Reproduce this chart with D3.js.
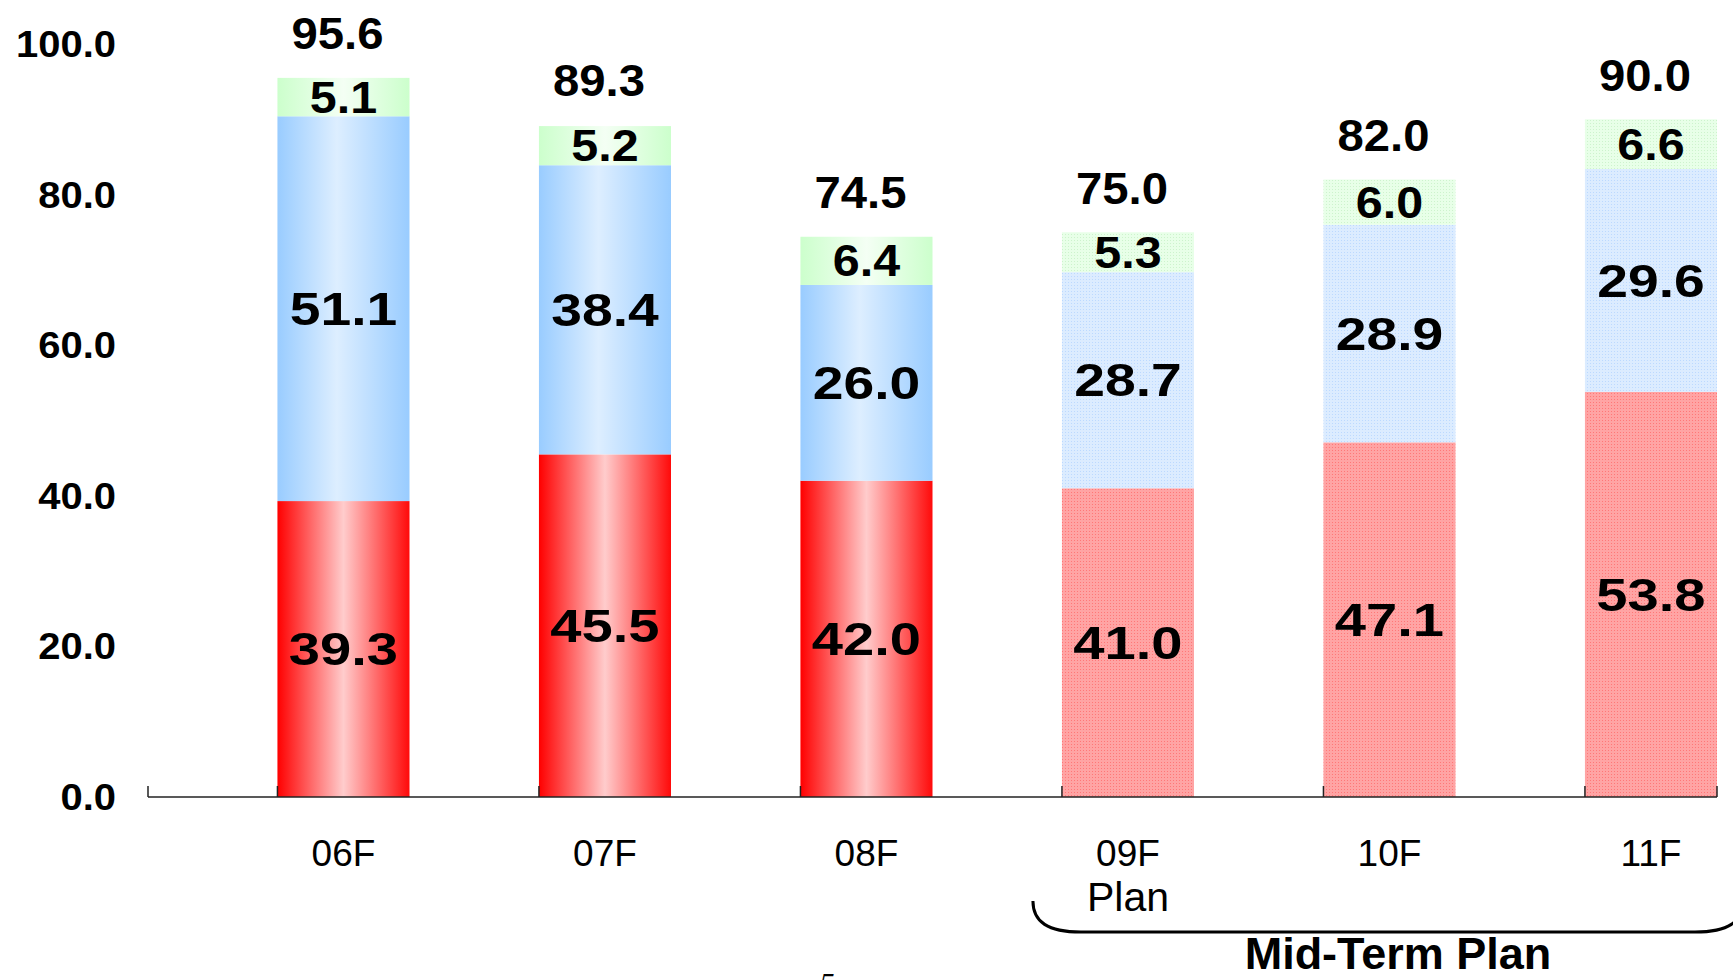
<!doctype html>
<html>
  <head>
    <script src="https://cdn.jsdelivr.net/npm/d3@7"></script>
    <style>
      body { margin: 0; background: #fff; }
      svg { display: block; }
      text { font-family: "Liberation Sans", Arial, sans-serif; fill: #000; }
    </style>
  </head>
  <body>
    <svg id="chart" width="1733" height="980"></svg>
    <script>
      // values
      var years = ["06F", "07F", "08F", "09F", "10F", "11F"];
      var kind = ["actual", "actual", "actual", "plan", "plan", "plan"];
      var redVals = [39.3, 45.5, 42.0, 41.0, 47.1, 53.8];
      var blueVals = [51.1, 38.4, 26.0, 28.7, 28.9, 29.6];
      var greenVals = [5.1, 5.2, 6.4, 5.3, 6.0, 6.6];
      var totals = [95.6, 89.3, 74.5, 75.0, 82.0, 90.0];
      var yTicks = [0, 20, 40, 60, 80, 100];

      var keys = ["red", "blue", "green"];
      var table = years.map((y, i) => ({
        year: y, kind: kind[i], red: redVals[i], blue: blueVals[i], green: greenVals[i], total: totals[i]
      }));

      var svg = d3.select("#chart");

      var x = d3.scaleBand().domain(years).range([148, 1717]).padding(0);
      var y = d3.scaleLinear().domain([0, 100]).range([797, 44]);
      var barW = x.bandwidth() * 0.505;
      var barLeft = d => x(d) + x.bandwidth() - barW;

      // gradients for actual bars, dotted patterns for plan bars
      var defs = svg.append("defs");
      var grads = {
        red: [["0%", "#ff0000"], ["50%", "#ffcccc"], ["100%", "#ff0a0a"]],
        blue: [["0%", "#99ccff"], ["45%", "#ddeeff"], ["100%", "#99ccff"]],
        green: [["0%", "#ccffcc"], ["50%", "#f4fff4"], ["100%", "#ccffcc"]]
      };
      keys.forEach(k => {
        var g = defs.append("linearGradient").attr("id", "grad-" + k)
          .attr("x1", 0).attr("x2", 1).attr("y1", 0).attr("y2", 0);
        grads[k].forEach(s => g.append("stop").attr("offset", s[0]).attr("stop-color", s[1]));
      });
      var pats = {
        red: ["#ffa4a4", "#ff7777"],
        blue: ["#dcecff", "#bcd9ff"],
        green: ["#e8ffe8", "#cdf3cd"]
      };
      keys.forEach(k => {
        var p = defs.append("pattern").attr("id", "pat-" + k)
          .attr("patternUnits", "userSpaceOnUse").attr("width", 3).attr("height", 3);
        p.append("rect").attr("width", 3).attr("height", 3).attr("fill", pats[k][0]);
        p.append("rect").attr("width", 1).attr("height", 1).attr("fill", pats[k][1]);
      });

      var series = d3.stack().keys(keys)(table);

      // bars
      var layers = svg.selectAll("g.layer")
        .data(series)
        .enter()
        .append("g")
          .attr("class", "layer");
      layers.selectAll("rect")
        .data(s => s.map(d => Object.assign({ key: s.key }, d)))
        .enter()
        .append("rect")
          .attr("x", d => barLeft(d.data.year))
          .attr("width", barW)
          .attr("y", d => y(d[1]))
          .attr("height", d => y(d[0]) - y(d[1]))
          .attr("fill", d => d.data.kind == "plan" ? "url(#pat-" + d.key + ")" : "url(#grad-" + d.key + ")");

      // segment labels
      var labelSize = { red: 46, blue: 46, green: 44 };
      var labelStretch = { red: 1.22, blue: 1.2, green: 1.1 };
      layers.selectAll("text")
        .data(s => s.map(d => Object.assign({ key: s.key }, d)))
        .enter()
        .append("text")
          .attr("transform", d => `translate(${barLeft(d.data.year) + barW / 2},${(y(d[0]) + y(d[1])) / 2}) scale(${labelStretch[d.key]},1)`)
          .attr("dy", "0.35em")
          .attr("text-anchor", "middle")
          .style("font-weight", "bold")
          .style("font-size", d => labelSize[d.key] + "px")
          .text(d => d3.format(".1f")(d.data[d.key]));

      // totals above bars
      svg.selectAll("text.total")
        .data(table)
        .enter()
        .append("text")
          .attr("class", "total")
          .attr("transform", d => `translate(${barLeft(d.year) + barW / 2 - 6},${y(d.total) - 44}) scale(1.05,1)`)
          .attr("dy", "0.35em")
          .attr("text-anchor", "middle")
          .style("font-weight", "bold")
          .style("font-size", "45px")
          .text(d => d3.format(".1f")(d.total));

      // y axis labels (no axis line)
      svg.selectAll("text.ytick")
        .data(yTicks)
        .enter()
        .append("text")
          .attr("class", "ytick")
          .attr("transform", d => `translate(116,${y(d)}) scale(1.08,1)`)
          .attr("dy", "0.35em")
          .attr("text-anchor", "end")
          .style("font-weight", "bold")
          .style("font-size", "37px")
          .text(d => d3.format(".1f")(d));

      // x axis baseline with small upward ticks
      var xr = x.range();
      svg.append("line")
        .attr("x1", xr[0]).attr("x2", xr[1])
        .attr("y1", y(0)).attr("y2", y(0))
        .attr("stroke", "#222").attr("stroke-width", 1.5);
      var tickXs = [xr[0], xr[1]].concat(years.map(barLeft));
      svg.selectAll("line.xtick")
        .data(tickXs)
        .enter()
        .append("line")
          .attr("class", "xtick")
          .attr("x1", d => d).attr("x2", d => d)
          .attr("y1", y(0)).attr("y2", y(0) - 11)
          .attr("stroke", "#222").attr("stroke-width", 1.5);

      svg.selectAll("text.xlab")
        .data(years)
        .enter()
        .append("text")
          .attr("class", "xlab")
          .attr("x", d => barLeft(d) + barW / 2)
          .attr("y", 866)
          .attr("text-anchor", "middle")
          .style("font-size", "37px")
          .text(d => d);

      // Mid-Term Plan annotation
      var planX = barLeft("09F") + barW / 2;
      svg.append("text")
        .attr("x", planX)
        .attr("y", 911)
        .attr("text-anchor", "middle")
        .style("font-size", "41px")
        .text("Plan");

      var bl = barLeft("09F") - 29, br = xr[1] + 26, by = 932, bt = 901;
      svg.append("path")
        .attr("d", `M${bl},${bt} C${bl},${by - 10} ${bl + 15},${by} ${bl + 48},${by} L${br - 48},${by} C${br - 15},${by} ${br},${by - 10} ${br},${bt}`)
        .attr("fill", "none")
        .attr("stroke", "#000")
        .attr("stroke-width", 3);

      svg.append("text")
        .attr("x", 1398)
        .attr("y", 969)
        .attr("text-anchor", "middle")
        .style("font-weight", "bold")
        .style("font-size", "45px")
        .text("Mid-Term Plan");

      // page number peeking in at the bottom
      svg.append("text")
        .attr("x", 827)
        .attr("y", 993)
        .attr("text-anchor", "middle")
        .style("font-family", "'Liberation Serif', serif")
        .style("font-style", "italic")
        .style("font-size", "30px")
        .text("5");
    </script>
  </body>
</html>
